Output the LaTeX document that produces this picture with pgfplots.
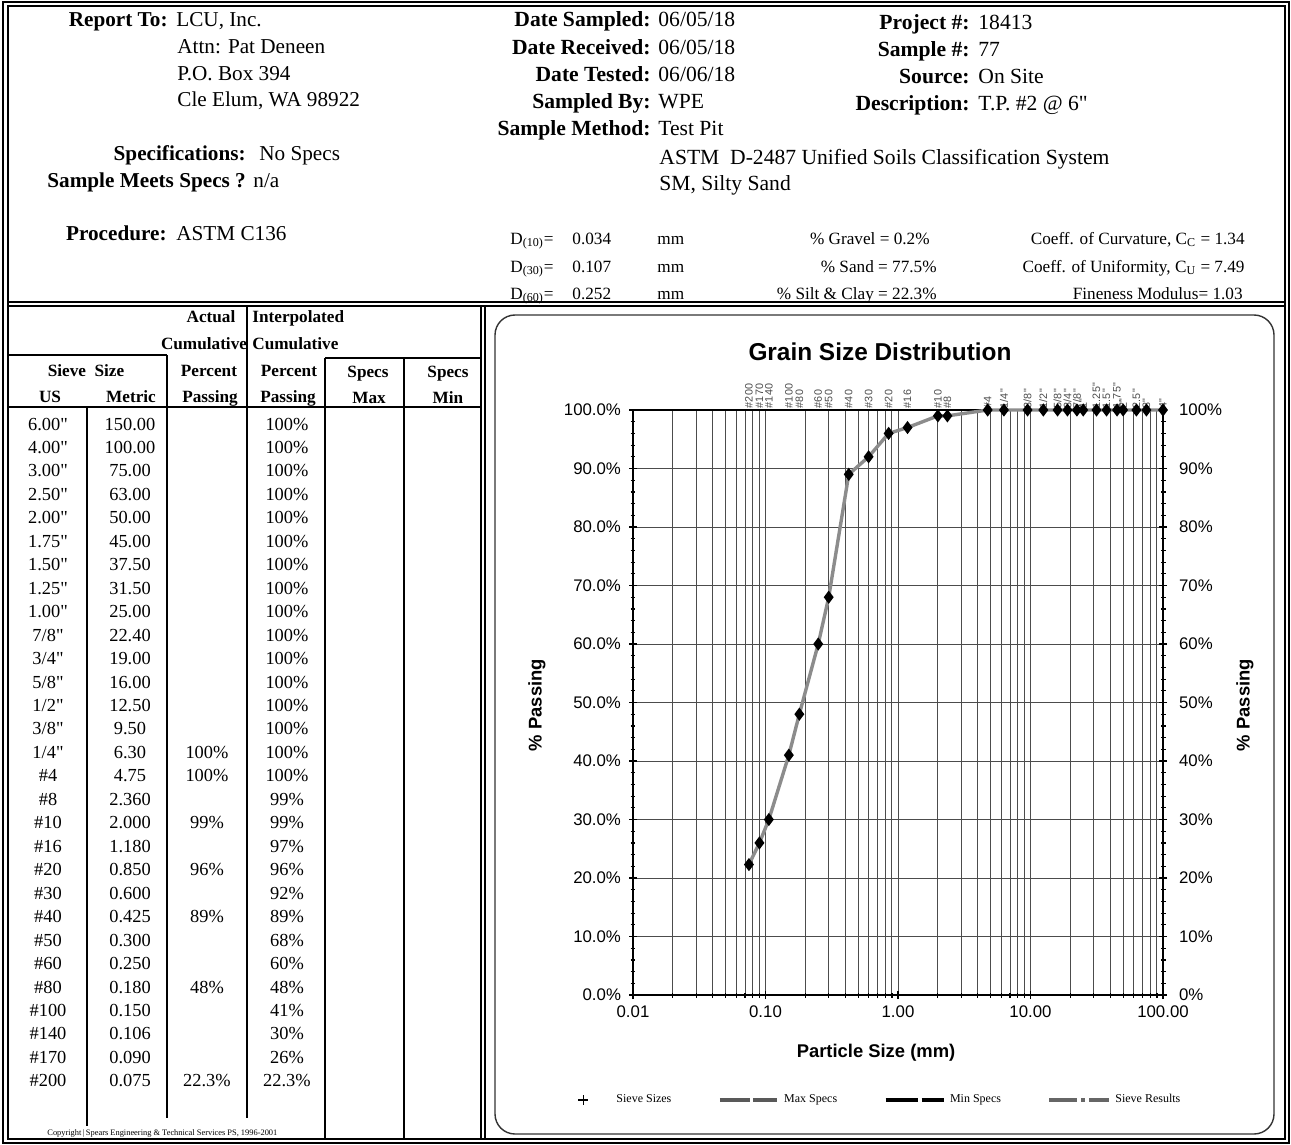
\documentclass[border=0pt]{standalone}
\usepackage{fontspec}
\setmainfont{Liberation Serif}[Ligatures=TeXOff]
\newfontfamily\sansf{Liberation Sans}[Ligatures=TeXOff]
\usepackage{pgfplots}
\pgfplotsset{compat=1.18}
\newcommand\fs[1]{\fontsize{#1}{#1}\selectfont}

\begin{document}
\begin{tikzpicture}
\begin{scope}[x=0.5pt,y=-0.5pt]
\useasboundingbox (0,0) rectangle (1291,1145);
\fill[white] (0,0) rectangle (1291,1145);
% frame
\draw[line width=0.9pt] (3,2) rectangle (1289,1143);
\draw[line width=0.6pt] (8,6) rectangle (1285,1139);
\draw[line width=0.7pt] (8,302) -- (1285,302);
\draw[line width=0.6pt] (8,306) -- (1285,306);
\draw[line width=0.6pt] (481,306) -- (481,1139);
\draw[line width=0.6pt] (485,306) -- (485,1139);
% chart frame
\draw[line width=0.7pt, black!80, rounded corners=10pt] (495,315) rectangle (1274,1134);

% ---------- header left
\tikzset{hb/.style={inner sep=0pt, font=\fs{10.6}\bfseries}, hr/.style={inner sep=0pt, font=\fs{10.6}}}
\node[hb, anchor=base east] at (168,27) {Report To:};
\node[hr, anchor=base west] at (176,27) {LCU, Inc.};
\node[hr, anchor=base west] at (177,54) {Attn: Pat Deneen};
\node[hr, anchor=base west] at (177,81) {P.O. Box 394};
\node[hr, anchor=base west] at (177,107) {Cle Elum, WA 98922};
\node[hb, anchor=base east] at (246,161) {Specifications:};
\node[hr, anchor=base west] at (259,161) {No Specs};
\node[hb, anchor=base west] at (47,187) {Sample Meets Specs ?};
\node[hr, anchor=base west] at (253,187) {n/a};
\node[hb, anchor=base east] at (167,240) {Procedure:};
\node[hr, anchor=base west] at (176,240) {ASTM C136};

% ---------- header right
\tikzset{rb/.style={inner sep=0pt, font=\fs{10.8}\bfseries}, rr/.style={inner sep=0pt, font=\fs{10.8}}}
\node[rb, anchor=base east] at (651,27) {Date Sampled:};
\node[rr, anchor=base west] at (658,27) {06/05/18};
\node[rb, anchor=base east] at (651,55) {Date Received:};
\node[rr, anchor=base west] at (658,55) {06/05/18};
\node[rb, anchor=base east] at (651,82) {Date Tested:};
\node[rr, anchor=base west] at (658,82) {06/06/18};
\node[rb, anchor=base east] at (651,109) {Sampled By:};
\node[rr, anchor=base west] at (658,109) {WPE};
\node[rb, anchor=base east] at (651,136) {Sample Method:};
\node[rr, anchor=base west] at (658,136) {Test Pit};
\node[rb, anchor=base east] at (970,30) {Project \#:};
\node[rr, anchor=base west] at (978,30) {18413};
\node[rb, anchor=base east] at (970,57) {Sample \#:};
\node[rr, anchor=base west] at (978,57) {77};
\node[rb, anchor=base east] at (970,84) {Source:};
\node[rr, anchor=base west] at (978,84) {On Site};
\node[rb, anchor=base east] at (970,111) {Description:};
\node[rr, anchor=base west] at (978,111) {T.P. \#2 @ 6"};
\node[rr, anchor=base west] at (659,164) {ASTM\ \ D-2487 Unified Soils Classification System};
\node[rr, anchor=base west] at (659,191) {SM, Silty Sand};

\tikzset{dr/.style={inner sep=0pt, font=\fs{8.6}}}
\node[dr, anchor=base west] at (510,244) {D\textsubscript{(10)}=};
\node[dr, anchor=base west] at (572,244) {0.034};
\node[dr, anchor=base west] at (657,244) {mm};
\node[dr, anchor=base east] at (930,244) {\% Gravel = 0.2\%};
\node[dr, anchor=base east] at (1245,244) {Coeff. of Curvature, C\textsubscript{C} = 1.34};
\node[dr, anchor=base west] at (510,272) {D\textsubscript{(30)}=};
\node[dr, anchor=base west] at (572,272) {0.107};
\node[dr, anchor=base west] at (657,272) {mm};
\node[dr, anchor=base east] at (937,272) {\% Sand = 77.5\%};
\node[dr, anchor=base east] at (1245,272) {Coeff. of Uniformity, C\textsubscript{U} = 7.49};
\node[dr, anchor=base west] at (510,299) {D\textsubscript{(60)}=};
\node[dr, anchor=base west] at (572,299) {0.252};
\node[dr, anchor=base west] at (657,299) {mm};
\node[dr, anchor=base east] at (937,299) {\% Silt \& Clay = 22.3\%};
\node[dr, anchor=base east] at (1243,299) {Fineness Modulus= 1.03};

% ---------- table
\draw[line width=0.6pt] (8,355) -- (167,355);
\draw[line width=0.6pt] (325,358) -- (481,358);
\draw[line width=0.7pt] (8,407) -- (481,407);
\draw[line width=0.6pt] (87,407) -- (87,1126);
\draw[line width=0.6pt] (167,355) -- (167,1118);
\draw[line width=0.6pt] (247,306) -- (247,1118);
\draw[line width=0.6pt] (325,358) -- (325,1139);
\draw[line width=0.6pt] (404,358) -- (404,1139);
\tikzset{tb/.style={inner sep=0pt, font=\fs{8.6}\bfseries, anchor=base}, tr/.style={inner sep=0pt, font=\fs{9.2}, anchor=base}}
\node[tb] at (211,322) {Actual};
\node[tb, anchor=base west] at (252,322) {Interpolated};
\node[tb] at (204,349) {Cumulative};
\node[tb, anchor=base west] at (252,349) {Cumulative};
\node[tb] at (86,376) {Sieve\ \ Size};
\node[tb] at (209,376) {Percent};
\node[tb] at (289,376) {Percent};
\node[tb] at (368,377) {Specs};
\node[tb] at (448,377) {Specs};
\node[tb] at (50,402) {US};
\node[tb] at (131,402) {Metric};
\node[tb] at (210,402) {Passing};
\node[tb] at (288,402) {Passing};
\node[tb] at (369,403) {Max};
\node[tb] at (448,403) {Min};
\foreach \us/\met/\act/\inp [count=\i from 0] in {
6.00"/150.00//100\%, 4.00"/100.00//100\%, 3.00"/75.00//100\%, 2.50"/63.00//100\%,
2.00"/50.00//100\%, 1.75"/45.00//100\%, 1.50"/37.50//100\%, 1.25"/31.50//100\%,
1.00"/25.00//100\%, {7/8"}/22.40//100\%, {3/4"}/19.00//100\%, {5/8"}/16.00//100\%,
{1/2"}/12.50//100\%, {3/8"}/9.50//100\%, {1/4"}/6.30/100\%/100\%, \#4/4.75/100\%/100\%,
\#8/2.360//99\%, \#10/2.000/99\%/99\%, \#16/1.180//97\%, \#20/0.850/96\%/96\%,
\#30/0.600//92\%, \#40/0.425/89\%/89\%, \#50/0.300//68\%, \#60/0.250//60\%,
\#80/0.180/48\%/48\%, \#100/0.150//41\%, \#140/0.106//30\%, \#170/0.090//26\%,
\#200/0.075/22.3\%/22.3\%}{
  \pgfmathsetmacro\yy{430+23.46*\i}
  \node[tr] at (48,\yy) {\us};
  \node[tr] at (130,\yy) {\met};
  \node[tr] at (207,\yy) {\act};
  \node[tr] at (287,\yy) {\inp};
}
\node[inner sep=0pt, anchor=base west, font=\fs{4.2}] at (47,1135) {Copyright\,\textbar\,Spears Engineering \& Technical Services PS, 1996-2001};

% ---------- chart texts
\node[inner sep=0pt, font=\sansf\bfseries\fs{12.2}] at (880,352) {Grain Size Distribution};
\node[inner sep=0pt, font=\sansf\bfseries\fs{9.2}, rotate=90] at (537,705) {\% Passing};
\node[inner sep=0pt, font=\sansf\bfseries\fs{9.2}, rotate=90] at (1245,705) {\% Passing};
\node[inner sep=0pt, font=\sansf\bfseries\fs{9.2}] at (876,1053) {Particle Size (mm)};
\end{scope}

% ---------- main axis
\begin{axis}[
  at={(316.5pt,-497.5pt)}, anchor=south west,
  scale only axis, width=265pt, height=292.5pt,
  xmode=log, xmin=0.01, xmax=100, ymin=0, ymax=100,
  xtick={0.01,0.1,1,10,100},
  xticklabels={0.01,0.10,1.00,10.00,100.00},
  minor xtick={0.02,0.03,0.04,0.05,0.06,0.07,0.08,0.09,0.2,0.3,0.4,0.5,0.6,0.7,0.8,0.9,2,3,4,5,6,7,8,9,20,30,40,50,60,70,80,90},
  ytick={0,10,20,30,40,50,60,70,80,90,100},
  yticklabels={0.0\%,10.0\%,20.0\%,30.0\%,40.0\%,50.0\%,60.0\%,70.0\%,80.0\%,90.0\%,100.0\%},
  minor y tick num=4,
  xmajorgrids, xminorgrids, ymajorgrids,
  major grid style={black!70, line width=0.45pt},
  minor grid style={black!70, line width=0.45pt},
  axis line style={black, line width=0.8pt},
  tick style={black, line width=0.6pt},
  major tick length=4pt, minor tick length=2.5pt,
  ytick pos=left, xtick pos=bottom, tick align=center,
  ticklabel style={font=\sansf\fs{8.4}},
  yticklabel style={xshift=-0.5pt},
  clip=false,
  legend columns=4,
  legend cell align=left,
  legend style={at={(-0.149,-0.1795)}, anchor=west, draw=none, fill=none, inner sep=0pt,
    font=\fs{6}, /tikz/every even column/.append style={column sep=21pt}},
]
\addlegendimage{legend image code/.code={\path[draw=none, fill=none] (0pt,-2pt) rectangle (29pt,2pt); \draw[only marks, mark=+, mark size=2.5pt, black, line width=0.8pt] plot coordinates {(14.5pt,0pt)};}}
\addlegendentry{Sieve Sizes}
\addlegendimage{legend image code/.code={\draw[black!65, line width=2.4pt, dash pattern=on 15pt off 1.5pt on 12pt] (0pt,0pt) -- (29pt,0pt);}}
\addlegendentry{Max Specs}
\addlegendimage{legend image code/.code={\draw[black, line width=2.4pt, dash pattern=on 16pt off 2pt on 11pt] (0pt,0pt) -- (29pt,0pt);}}
\addlegendentry{Min Specs}
\addplot[black!45, line width=1.7pt, mark=diamond*, mark size=1.9pt,
  mark options={black, solid},
  legend image code/.code={\draw[black!60, line width=2.2pt, dash pattern=on 14pt off 2pt on 2pt off 2pt on 11pt] (0pt,0pt) -- (30pt,0pt);}]
  table[row sep=\\] {
x y\\
0.075 22.3\\
0.090 26\\
0.106 30\\
0.150 41\\
0.180 48\\
0.250 60\\
0.300 68\\
0.425 89\\
0.600 92\\
0.850 96\\
1.180 97\\
2.000 99\\
2.360 99\\
4.75 100\\
6.3 100\\
9.5 100\\
12.5 100\\
16 100\\
19 100\\
22.4 100\\
25 100\\
31.5 100\\
37.5 100\\
45 100\\
50 100\\
63 100\\
75 100\\
100 100\\
};
\addlegendentry{Sieve Results}
% sieve labels along the top
\tikzset{sv/.style={rotate=90, anchor=west, inner sep=0.8pt, font=\sansf\fs{5.4}, text=black!70}}
\node[sv] at (axis cs:0.075,100) {\#200};
\node[sv] at (axis cs:0.090,100) {\#170};
\node[sv] at (axis cs:0.106,100) {\#140};
\node[sv] at (axis cs:0.150,100) {\#100};
\node[sv] at (axis cs:0.180,100) {\#80};
\node[sv] at (axis cs:0.250,100) {\#60};
\node[sv] at (axis cs:0.300,100) {\#50};
\node[sv] at (axis cs:0.425,100) {\#40};
\node[sv] at (axis cs:0.600,100) {\#30};
\node[sv] at (axis cs:0.850,100) {\#20};
\node[sv] at (axis cs:1.180,100) {\#16};
\node[sv] at (axis cs:2.000,100) {\#10};
\node[sv] at (axis cs:2.360,100) {\#8};
\node[sv] at (axis cs:4.75,100) {\#4};
\node[sv] at (axis cs:6.3,100) {1/4"};
\node[sv] at (axis cs:9.5,100) {3/8"};
\node[sv] at (axis cs:12.5,100) {1/2"};
\node[sv] at (axis cs:16,100) {5/8"};
\node[sv] at (axis cs:19,100) {3/4"};
\node[sv] at (axis cs:22.4,100) {7/8"};
\node[sv] at (axis cs:25,100) {1"};
\node[sv] at (axis cs:31.5,100) {1.25"};
\node[sv] at (axis cs:37.5,100) {1.5"};
\node[sv] at (axis cs:45,100) {1.75"};
\node[sv] at (axis cs:50,100) {2"};
\node[sv] at (axis cs:63,100) {2.5"};
\node[sv] at (axis cs:75,100) {3"};
\node[sv] at (axis cs:100,100) {4"};
\end{axis}

% ---------- right axis
\begin{axis}[
  at={(316.5pt,-497.5pt)}, anchor=south west,
  scale only axis, width=265pt, height=292.5pt,
  xmode=log, xmin=0.01, xmax=100, ymin=0, ymax=100,
  axis x line=none, axis y line*=right,
  ytick={0,10,20,30,40,50,60,70,80,90,100},
  yticklabels={0\%,10\%,20\%,30\%,40\%,50\%,60\%,70\%,80\%,90\%,100\%},
  minor y tick num=4,
  axis line style={black, line width=0.8pt},
  tick style={black, line width=0.6pt},
  major tick length=4pt, minor tick length=2.5pt, tick align=center,
  ticklabel style={font=\sansf\fs{8.4}},
  yticklabel style={xshift=2.5pt},
]
\addplot[draw=none] coordinates {(1,50)};
\end{axis}
\end{tikzpicture}
\end{document}
